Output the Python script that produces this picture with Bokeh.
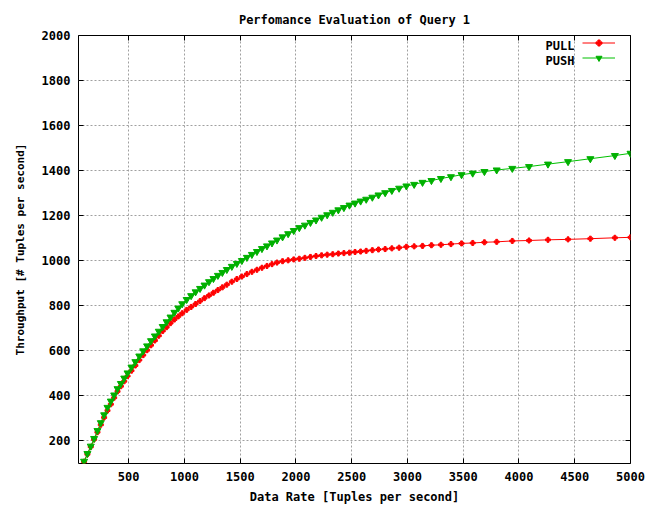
from bokeh.plotting import figure
from bokeh.models import (Range1d, LinearAxis, SingleIntervalTicker, CustomJSTickFormatter,
                          Legend, LegendItem, Label, ColumnDataSource)
from bokeh.embed import file_html
from bokeh.resources import INLINE

title = "Perfomance Evaluation of Query 1"
x_label = "Data Rate [Tuples per second]"
y_label = "Throughput [# Tuples per second]"

data_rate = [100, 130, 160, 190, 220, 250, 280, 310, 340, 370, 400, 430, 460, 490, 525, 560, 595, 630,
             665, 700, 735, 770, 805, 840, 875, 910, 945, 980, 1020, 1060, 1100, 1140, 1180, 1220, 1260,
             1300, 1340, 1380, 1425, 1470, 1515, 1560, 1605, 1650, 1695, 1740, 1785, 1830, 1880, 1930,
             1980, 2030, 2080, 2130, 2180, 2230, 2280, 2330, 2380, 2430, 2480, 2530, 2580, 2630, 2685,
             2740, 2800, 2860, 2925, 2990, 3060, 3135, 3215, 3300, 3390, 3485, 3585, 3690, 3800, 3940,
             4090, 4260, 4440, 4640, 4860, 5000]

pull = [108, 141, 174, 207, 239, 272, 304, 335, 363, 392, 420, 443, 465, 488, 512, 535, 559, 581,
        603, 625, 646, 667, 688, 705, 723, 739, 753, 767, 782, 795, 808, 821, 834, 846, 858,
        870, 882, 894, 907, 919, 930, 941, 951, 960, 969, 977, 985, 992, 998, 1002,
        1006, 1009, 1013, 1017, 1021, 1024, 1027, 1029, 1032, 1034, 1036, 1039, 1041, 1044, 1047,
        1050, 1052, 1055, 1058, 1062, 1064, 1066, 1069, 1071, 1074, 1077, 1079, 1082, 1084, 1088,
        1090, 1093, 1095, 1098, 1102, 1104]

push = [110, 144, 177, 211, 246, 281, 316, 349, 377, 404, 432, 455, 479, 502, 528, 552, 577, 600,
        622, 645, 666, 687, 708, 729, 750, 771, 790, 809, 828, 845, 862, 877, 892, 907, 921,
        935, 948, 961, 975, 988, 1001, 1015, 1028, 1041, 1054, 1066, 1079, 1092, 1106, 1120,
        1134, 1147, 1158, 1170, 1181, 1193, 1204, 1215, 1226, 1236, 1247, 1256, 1265, 1273, 1282,
        1292, 1302, 1312, 1322, 1332, 1339, 1348, 1356, 1365, 1373, 1382, 1389, 1396, 1403, 1410,
        1418, 1429, 1440, 1453, 1467, 1477]

series_names = ["PULL", "PUSH"]
x_start, x_end, x_step = 50, 5000, 500
y_start, y_end, y_step = 100, 2000, 200

FONT = "DejaVu Sans Mono"
RED = "#ff0000"
GREEN = "#00c000"

src = ColumnDataSource(dict(x=data_rate, pull=pull, push=push))

p = figure(width=646, height=507, output_backend="svg", toolbar_location=None,
           x_range=Range1d(x_start, x_end), y_range=Range1d(y_start, y_end),
           min_border_left=78, min_border_right=16, min_border_top=35, min_border_bottom=44)
p.background_fill_color = "white"
p.border_fill_color = "white"
p.outline_line_color = "black"
p.outline_line_width = 1

p.title.text = title
p.title.align = "center"
p.title.text_font = FONT
p.title.text_font_style = "bold"
p.title.text_font_size = "12px"
p.title.text_color = "black"
p.title.standoff = 18

p.xaxis.ticker = SingleIntervalTicker(interval=x_step, num_minor_ticks=0)
p.yaxis.ticker = SingleIntervalTicker(interval=y_step, num_minor_ticks=0)
p.xaxis.axis_label = x_label
p.yaxis.axis_label = y_label
for ax in (p.xaxis[0], p.yaxis[0]):
    ax.axis_line_color = None
    ax.major_tick_in = 5
    ax.major_tick_out = 0
    ax.minor_tick_in = 0
    ax.minor_tick_out = 0
    ax.major_tick_line_color = "black"
    ax.major_label_text_font = FONT
    ax.major_label_text_font_style = "bold"
    ax.major_label_text_font_size = "12px"
    ax.major_label_text_color = "black"
    ax.axis_label_text_font = FONT
    ax.axis_label_text_font_style = "bold"
    ax.axis_label_text_color = "black"
p.xaxis.axis_label_text_font_size = "12px"
p.yaxis.axis_label_text_font_size = "11px"
p.xaxis.major_label_standoff = 8
p.xaxis.axis_label_standoff = 6
p.yaxis.major_label_standoff = 8
p.yaxis.axis_label_standoff = 12

blank = CustomJSTickFormatter(code="return ''")
top_ax = LinearAxis(ticker=SingleIntervalTicker(interval=x_step, num_minor_ticks=0), formatter=blank,
                    major_tick_in=5, major_tick_out=0, minor_tick_in=0, minor_tick_out=0,
                    axis_line_color=None, major_label_standoff=0, major_label_text_font_size="0px")
right_ax = LinearAxis(ticker=SingleIntervalTicker(interval=y_step, num_minor_ticks=0), formatter=blank,
                      major_tick_in=5, major_tick_out=0, minor_tick_in=0, minor_tick_out=0,
                      axis_line_color=None, major_label_standoff=0, major_label_text_font_size="0px")
p.add_layout(top_ax, "above")
p.add_layout(right_ax, "right")

for g in (p.xgrid[0], p.ygrid[0]):
    g.grid_line_color = "#a0a0a0"
    g.grid_line_dash = "2 2"
    g.grid_line_width = 1

r_line = p.line("x", "pull", source=src, color=RED, line_width=1)
r_pts = p.scatter("x", "pull", source=src, marker="plus", size=5, color=RED)
g_line = p.line("x", "push", source=src, color=GREEN, line_width=1)
g_pts = p.scatter("x", "push", source=src, marker="inverted_triangle", size=7, color="#00b000")

legend = Legend(items=[LegendItem(label=" ", renderers=[r_line, r_pts]),
                       LegendItem(label=" ", renderers=[g_line, g_pts])],
                location="top_right", glyph_width=33, glyph_height=15, label_height=15,
                label_width=15, label_standoff=0, spacing=0, padding=2, margin=0,
                border_line_color=None, background_fill_alpha=0, label_text_font_size="12px")
p.add_layout(legend)

for i, name in enumerate(series_names):
    p.add_layout(Label(x=496, y=418 - 15 * i, x_units="screen", y_units="screen", text=name,
                       text_align="right", text_baseline="middle", text_font=FONT,
                       text_font_style="bold", text_font_size="12px", text_color="black"))

open("out.html", "w").write(file_html(p, INLINE))
